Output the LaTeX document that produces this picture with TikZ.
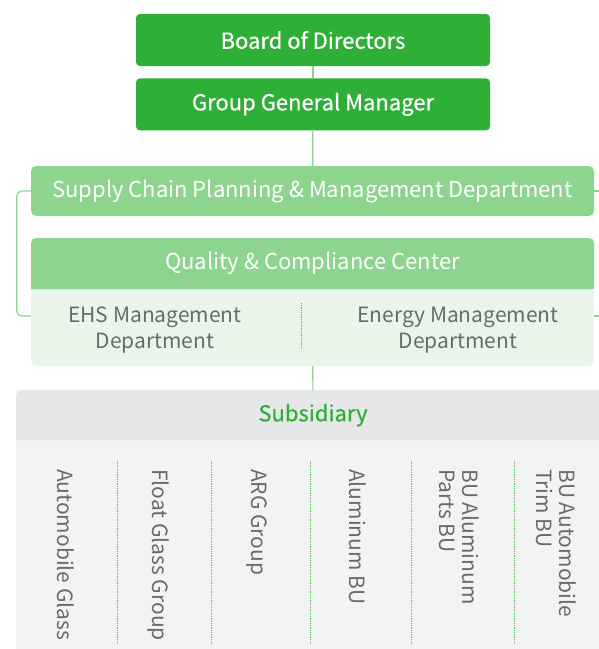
\documentclass[tikz,border=0pt]{standalone}
\usepackage{fontspec}
\setmainfont{Noto Sans CJK SC}
\newfontfamily\mediumfont[FakeBold=0.6]{Noto Sans CJK SC}
\usetikzlibrary{positioning}

\definecolor{dkgreen}{HTML}{2EAF36}
\definecolor{ltgreen}{HTML}{8DD48F}
\definecolor{palegreen}{HTML}{E8F6E9}
\definecolor{subgray}{HTML}{E6E7E9}
\definecolor{palegray}{HTML}{F2F4F3}
\definecolor{txtgray}{HTML}{6A6A6A}

\tikzset{
  topbox/.style={fill=dkgreen, text=white, rounded corners=4pt, minimum width=354pt, minimum height=52pt, font=\mediumfont\fontsize{22}{26}\selectfont},
  deptbox/.style={fill=ltgreen, text=white, rounded corners=5pt, minimum width=563pt, minimum height=50pt, font=\fontsize{22}{26}\selectfont},
  link/.style={draw=ltgreen, line width=1.2pt},
  divider/.style={draw=dkgreen!80, densely dotted, line width=0.8pt},
  subunit/.style={text=txtgray, align=center, font=\fontsize{21}{26}\selectfont},
  unit/.style={rotate=-90, anchor=west, inner sep=0pt, text=txtgray, align=left, font=\fontsize{21}{23}\selectfont},
}

\begin{document}
\begin{tikzpicture}[x=1pt, y=1pt]
  \useasboundingbox (0,0) rectangle (599,-649);
  \clip (0,0) rectangle (599,-649);

  \node (board) [topbox] at (313,-40) {Board of Directors};
  \node (ggm) [topbox, below=12pt of board] {Group General Manager};

  \node (supply) [deptbox] at (312.5,-191) {Supply Chain Planning \& Management Department};

  \node (qbody) [fill=palegreen, rounded corners=5pt, minimum width=563pt, minimum height=128pt] at (312.5,-302) {};
  \node (qhead) [deptbox, minimum height=51pt, below=0pt of qbody.north] {};
  \fill [ltgreen] (qhead.south west) rectangle ([yshift=8pt]qhead.south east);
  \node (qtitle) at (qhead) [text=white, font=\fontsize{22}{26}\selectfont] {Quality \& Compliance Center};

  \node (ehs) [subunit] at (155,-330) {EHS Management\\Department};
  \node (energy) [subunit] at (458,-330) {Energy Management\\Department};
  \draw [divider] (301,-303) -- (301,-349);

  \node (subbody) [fill=palegray, rounded corners=5pt, minimum width=594pt, minimum height=270pt, anchor=north] at (313,-390) {};
  \node (subhead) [fill=subgray, rounded corners=5pt, minimum width=594pt, minimum height=50pt, below=0pt of subbody.north] {};
  \fill [subgray] (subhead.south west) rectangle ([yshift=8pt]subhead.south east);
  \node (subtitle) at (subhead) [text=dkgreen, font=\mediumfont\fontsize{22}{26}\selectfont] {Subsidiary};

  \node (autoglass) [unit] at (66,-469) {Automobile Glass};
  \node (floatglass) [unit] at (158,-469) {Float Glass Group};
  \node (arg) [unit] at (257,-469) {ARG Group};
  \node (alubu) [unit] at (358,-469) {Aluminum BU};
  \node (aluparts) [unit] at (459,-469) {BU Aluminum\\Parts BU};
  \node (autotrim) [unit] at (556,-469) {BU Automobile\\Trim BU};

  \draw [divider] (117,-461) -- (117,-643);
  \draw [divider] (211,-461) -- (211,-643);
  \draw [divider] (310,-461) -- (310,-643);
  \draw [divider] (411,-461) -- (411,-643);
  \draw [divider] (514,-461) -- (514,-643);

  \draw [link] (board) -- (ggm);
  \draw [link] (ggm) -- (supply);
  \draw [link] (qbody) -- (subhead);
  \draw [link, rounded corners=5pt] (supply.west) -| ([xshift=-14pt, yshift=-14pt]qbody.west) -- ([yshift=-14pt]qbody.west);
  \draw [link] (supply.east) -- ++(8,0);
  \draw [link] ([yshift=-14pt]qbody.east) -- ++(8,0);
\end{tikzpicture}
\end{document}
